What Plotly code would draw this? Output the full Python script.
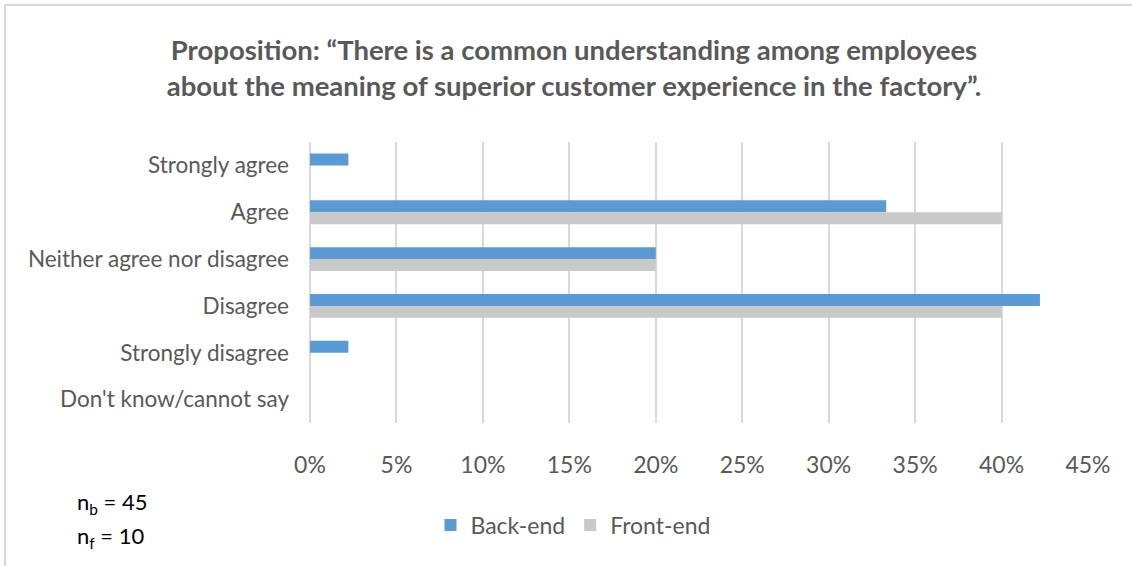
import plotly.graph_objects as go

categories = ["Strongly agree", "Agree", "Neither agree nor disagree", "Disagree",
              "Strongly disagree", "Don't know/cannot say"]
back_end = [0.0222, 0.3333, 0.20, 0.4222, 0.0222, 0.0]
front_end = [0.0, 0.40, 0.20, 0.40, 0.0, 0.0]
x_ticks = [0, 0.05, 0.10, 0.15, 0.20, 0.25, 0.30, 0.35, 0.40, 0.45]
x_tick_labels = ["0%", "5%", "10%", "15%", "20%", "25%", "30%", "35%", "40%", "45%"]

FONT = "Lato, Carlito, Calibri, sans-serif"
GREY = "#595959"

fig = go.Figure()
fig.add_trace(go.Bar(y=categories, x=back_end, name="Back-end", orientation="h",
                     marker=dict(color="#5B9BD5", line=dict(width=0))))
fig.add_trace(go.Bar(y=categories, x=front_end, name="Front-end", orientation="h",
                     marker=dict(color="#C9C9C9", line=dict(width=0))))

L, R, T, B = 310, 44, 142, 143
W, H = 1132, 566
pw, ph = W - L - R, H - T - B

def px(xp):
    return (xp - L) / pw

def py(yp):
    return (H - B - yp) / ph

fig.update_layout(
    width=W, height=H,
    margin=dict(l=L, r=R, t=T, b=B, pad=0),
    paper_bgcolor="white", plot_bgcolor="white",
    barmode="group", bargap=0.49, bargroupgap=0,
    font=dict(family=FONT, color=GREY, size=20),
    title=dict(
        text="<b>Proposition: “There is a common understanding among employees<br>about the meaning of superior customer experience in the factory”.</b>",
        x=574 / W, xref="container", xanchor="center",
        y=1 - 60 / H, yref="container", yanchor="middle",
        font=dict(family=FONT, size=27.5, color=GREY),
    ),
    showlegend=True,
    legend=dict(orientation="h", x=px(573), xanchor="center", y=py(525), yanchor="middle",
                font=dict(size=23, color=GREY), itemwidth=30, tracegroupgap=0),
    xaxis=dict(range=[0, 0.45], tickvals=x_ticks, ticktext=x_tick_labels,
               showgrid=True, gridcolor="#D9D9D9", gridwidth=2,
               zeroline=True, zerolinecolor="#D9D9D9", zerolinewidth=2,
               showline=False, ticks="", ticklabelstandoff=26,
               tickfont=dict(size=23, color=GREY), fixedrange=True),
    yaxis=dict(autorange="reversed", showgrid=False, showline=False, ticks="",
               ticklabelstandoff=20, tickfont=dict(size=22.5, color=GREY)),
    shapes=[
        dict(type="line", xref="paper", yref="paper", x0=px(5), x1=px(1132), y0=py(5), y1=py(5),
             line=dict(color="#D9D9D9", width=2)),
        dict(type="line", xref="paper", yref="paper", x0=px(5), x1=px(5), y0=py(5), y1=py(566),
             line=dict(color="#D9D9D9", width=2)),
    ],
    annotations=[
        dict(text="n<sub>b</sub> = 45", xref="paper", yref="paper", x=px(75), y=py(503),
             xanchor="left", yanchor="middle", showarrow=False,
             font=dict(family=FONT, size=22, color="black")),
        dict(text="n<sub>f</sub> = 10", xref="paper", yref="paper", x=px(75), y=py(537),
             xanchor="left", yanchor="middle", showarrow=False,
             font=dict(family=FONT, size=22, color="black")),
    ],
)

fig.write_html("out.html")
